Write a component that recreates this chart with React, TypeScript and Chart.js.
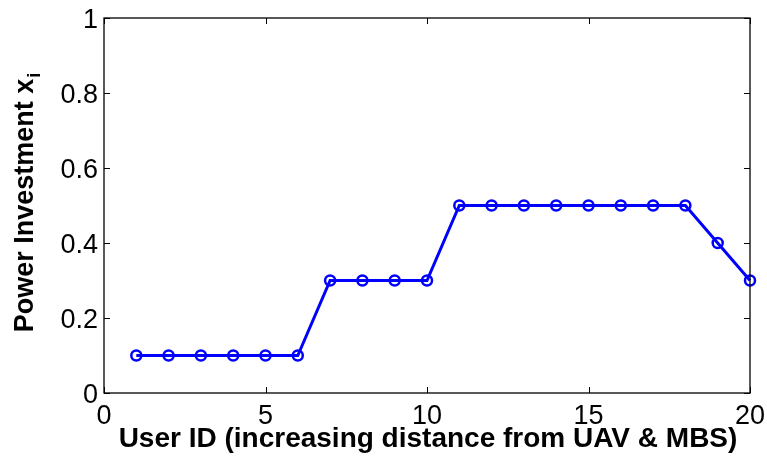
import React, { useEffect, useRef } from "react";
import { Chart, registerables } from "chart.js";

Chart.register(...registerables);

const userIds = [1, 2, 3, 4, 5, 6, 7, 8, 9, 10, 11, 12, 13, 14, 15, 16, 17, 18, 19, 20];
const powerInvestment = [0.1, 0.1, 0.1, 0.1, 0.1, 0.1, 0.3, 0.3, 0.3, 0.3, 0.5, 0.5, 0.5, 0.5, 0.5, 0.5, 0.5, 0.5, 0.4, 0.3];
const xTicks = [0, 5, 10, 15, 20];
const yTicks = [0, 0.2, 0.4, 0.6, 0.8, 1];
const xTitle = "User ID (increasing distance from UAV & MBS)";
const yTitleMain = "Power Investment x";
const yTitleSub = "i";

const FONT = "'Liberation Sans', Arial, Helvetica, sans-serif";

const framePlugin = {
  id: "frame",
  afterDraw(chart: any) {
    const { ctx, chartArea } = chart;
    const { left, right, top, bottom } = chartArea;
    const xs = chart.scales.x;
    const ys = chart.scales.y;
    ctx.save();
    ctx.strokeStyle = "#000";
    ctx.lineWidth = 1.3;
    ctx.strokeRect(left, top, right - left, bottom - top);
    const tl = 6;
    ctx.beginPath();
    xTicks.forEach((v) => {
      const px = Math.round(xs.getPixelForValue(v)) + 0.5;
      ctx.moveTo(px, bottom);
      ctx.lineTo(px, bottom - tl);
      ctx.moveTo(px, top);
      ctx.lineTo(px, top + tl);
    });
    yTicks.forEach((v) => {
      const py = Math.round(ys.getPixelForValue(v)) + 0.5;
      ctx.moveTo(left, py);
      ctx.lineTo(left + tl, py);
      ctx.moveTo(right, py);
      ctx.lineTo(right - tl, py);
    });
    ctx.lineWidth = 1;
    ctx.stroke();

    ctx.fillStyle = "#000";
    // tick labels
    ctx.font = `27px ${FONT}`;
    ctx.textBaseline = "alphabetic";
    ctx.textAlign = "center";
    xTicks.forEach((v) => {
      ctx.fillText(String(v), xs.getPixelForValue(v), 424);
    });
    ctx.textAlign = "right";
    yTicks.forEach((v) => {
      ctx.fillText(String(v), left - 6, ys.getPixelForValue(v) + 10);
    });

    // x title
    ctx.font = `bold 28px ${FONT}`;
    ctx.textAlign = "center";
    ctx.fillText(xTitle, (left + right) / 2 + 1, 447);

    // y title with subscript
    ctx.save();
    const cy = 203;
    ctx.translate(33, cy);
    ctx.rotate(-Math.PI / 2);
    ctx.font = `bold 27px ${FONT}`;
    const wMain = ctx.measureText(yTitleMain).width;
    ctx.font = `bold 18px ${FONT}`;
    const wSub = ctx.measureText(yTitleSub).width;
    const total = wMain + wSub;
    ctx.textAlign = "left";
    ctx.font = `bold 27px ${FONT}`;
    ctx.fillText(yTitleMain, -total / 2, 0);
    ctx.font = `bold 18px ${FONT}`;
    ctx.fillText(yTitleSub, -total / 2 + wMain + 1, 7);
    ctx.restore();
    ctx.restore();
  },
};

export default function App() {
  const ref = useRef<HTMLCanvasElement>(null);
  useEffect(() => {
    document.body.style.margin = "0";
    const chart = new Chart(ref.current as HTMLCanvasElement, {
      type: "line",
      data: {
        datasets: [
          {
            data: userIds.map((u, i) => ({ x: u, y: powerInvestment[i] })),
            borderColor: "#0000FF",
            borderWidth: 3,
            pointRadius: 5,
            pointBorderWidth: 2.5,
            pointBackgroundColor: "rgba(0,0,0,0)",
            pointBorderColor: "#0000FF",
            pointStyle: "circle",
            tension: 0,
            fill: false,
            clip: false as any,
          },
        ],
      },
      options: {
        responsive: false,
        animation: false,
        layout: { padding: { left: 0, top: 18, right: 17, bottom: 0 } },
        plugins: { legend: { display: false }, tooltip: { enabled: false } },
        scales: {
          x: {
            type: "linear",
            min: 0,
            max: 20,
            afterBuildTicks: (s: any) => {
              s.ticks = xTicks.map((v) => ({ value: v }));
            },
            afterFit: (s: any) => {
              s.height = 68;
              s.paddingLeft = 0;
              s.paddingRight = 0;
            },
            grid: { display: false, drawTicks: false },
            border: { display: false },
            ticks: { display: false },
          },
          y: {
            type: "linear",
            min: 0,
            max: 1,
            afterBuildTicks: (s: any) => {
              s.ticks = yTicks.map((v) => ({ value: v }));
            },
            afterFit: (s: any) => {
              s.width = 104;
              s.paddingTop = 0;
              s.paddingBottom = 0;
            },
            grid: { display: false, drawTicks: false },
            border: { display: false },
            ticks: { display: false },
          },
        },
      },
      plugins: [framePlugin],
    });
    return () => chart.destroy();
  }, []);
  return <canvas ref={ref} width={767} height={461} style={{ display: "block" }} />;
}
